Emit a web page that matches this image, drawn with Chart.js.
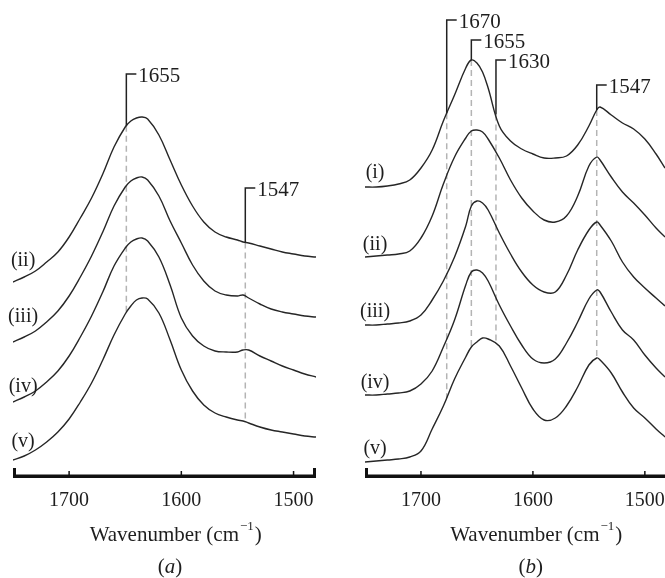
<!DOCTYPE html>
<html>
<head>
<meta charset="utf-8">
<script src="https://cdn.jsdelivr.net/npm/chart.js@4/dist/chart.umd.min.js"></script>
<style>
  body { margin: 0; background: #fff; }
  .painel { position: absolute; top: 0; }
  #painelA { left: 0; }
  #painelB { left: 332px; }
</style>
</head>
<body>
<div class="painel" id="painelA"><canvas id="graficoA" width="332" height="578"></canvas></div>
<div class="painel" id="painelB"><canvas id="graficoB" width="333" height="578"></canvas></div>
<script>
// painel (a): número de onda (cm-1) e absorbância deslocada (u.a.)
const ondasA = [1750,1740,1730,1720,1710,1700,1690,1680,1670,1660,1650,1645,1640,1635,1630,1620,1610,1600,1590,1580,1570,1560,1550,1545,1540,1530,1520,1510,1500,1490,1480];
const espectroA_ii  = [194,199,205,214,224,239,258,278,302,329,349,355,358,359,357,341,316,291,270,254,244,239,236,234,233,230,227,224,222,220,219];
const espectroA_iii = [134,139,145,154,165,180,199,220,244,270,289,295,298,299,296,280,255,233,211,195,185,181,180,181,178,172,167,164,162,160,159];
const espectroA_iv  = [74,79,85,94,105,120,139,160,184,210,228,234,237,238,235,219,191,158,140,130,125,124,124,126,126,120,115,110,106,102,99];
const espectroA_v   = [16,20,26,34,44,57,74,93,116,141,162,170,176,178,177,163,136,106,85,71,63,59,56,55,53,49,46,44,42,40,39];

// painel (b)
const ondasB = [1750,1740,1730,1720,1710,1700,1690,1680,1670,1660,1655,1650,1645,1640,1630,1620,1610,1600,1590,1580,1570,1560,1550,1543,1540,1530,1520,1510,1500,1490,1482];
const espectroB_i   = [289,289,290,292,296,308,326,355,381,408,416,413,404,388,350,335,327,322,318,318,320,331,350,366,369,361,353,347,337,322,308];
const espectroB_ii  = [219,220,221,222,225,238,260,292,319,338,345,346,344,337,318,296,278,265,256,254,260,280,310,319,316,299,284,273,261,248,239];
const espectroB_iii = [151,151,152,153,155,161,176,195,219,250,270,275,273,266,243,222,204,191,184,184,201,226,246,254,251,235,214,199,188,178,170];
const espectroB_iv  = [81,81,82,83,85,92,105,129,156,191,204,206,203,195,171,150,131,117,113,117,133,154,177,186,184,164,146,136,121,108,99];
const espectroB_v   = [14,15,16,17,19,25,47,70,97,119,129,134,138,137,130,110,88,67,56,58,70,89,111,118,116,103,84,68,58,47,39];

const valoresTicks = [1700, 1600, 1500];

const rotulosCurvasA = ['(ii)', '(iii)', '(iv)', '(v)'];
const nivelRotulosA = [215, 159, 89, 34];
const rotulosCurvasB = ['(i)', '(ii)', '(iii)', '(iv)', '(v)'];
const nivelRotulosB = [303, 231, 164, 93, 27];

const picosA = [1649, 1543];
const textosPicosA = ['1655', '1547'];
const nivelPicosA = [402, 288];
const picosB = [1677, 1655, 1633, 1543];
const textosPicosB = ['1670', '1655', '1630', '1547'];
const nivelPicosB = [456, 436, 416, 391];

const corCurva = '#262626';
const corTexto = '#1e1e1e';
const fonteSerif = '"Liberation Serif", "Times New Roman", serif';

function valorEm(ondas, valores, w) {
    for (let i = 0; i < ondas.length - 1; i++) {
        if (w <= ondas[i] && w >= ondas[i + 1]) {
            const t = (ondas[i] - w) / (ondas[i] - ondas[i + 1]);
            return valores[i] + t * (valores[i + 1] - valores[i]);
        }
    }
    return valores[valores.length - 1];
}

function desenharTitulo(ctx, cx, cy) {
    const grande = '21px ' + fonteSerif, pequena = '13px ' + fonteSerif;
    const p1 = 'Wavenumber (cm', p2 = '\u22121', p3 = ')';
    ctx.font = grande;
    const w1 = ctx.measureText(p1).width, w3 = ctx.measureText(p3).width;
    ctx.font = pequena;
    const w2 = ctx.measureText(p2).width;
    let xx = cx - (w1 + w2 + w3 + 2) / 2;
    ctx.textAlign = 'left';
    ctx.textBaseline = 'middle';
    ctx.font = grande; ctx.fillText(p1, xx, cy); xx += w1 + 1;
    ctx.font = pequena; ctx.fillText(p2, xx, cy - 8); xx += w2 + 1;
    ctx.font = grande; ctx.fillText(p3, xx, cy);
}

function desenharLetra(ctx, cx, cy, letra) {
    const normal = '21px ' + fonteSerif, italico = 'italic 21px ' + fonteSerif;
    ctx.font = normal;
    const wp = ctx.measureText('(').width;
    ctx.font = italico;
    const wl = ctx.measureText(letra).width;
    let xx = cx - (2 * wp + wl) / 2;
    ctx.textAlign = 'left';
    ctx.textBaseline = 'middle';
    ctx.font = normal; ctx.fillText('(', xx, cy); xx += wp;
    ctx.font = italico; ctx.fillText(letra, xx, cy); xx += wl;
    ctx.font = normal; ctx.fillText(')', xx, cy);
}

// plugin que desenha eixo, marcações de pico e textos do painel
function criarMarcas(cfg) {
    return {
        id: 'marcas' + cfg.letra,
        beforeDatasetsDraw(chart) {
            const ctx = chart.ctx, x = chart.scales.x, y = chart.scales.y;
            ctx.save();
            ctx.strokeStyle = '#b4b4b4';
            ctx.lineWidth = 1.5;
            ctx.setLineDash([6, 4]);
            cfg.picos.forEach(w => {
                const px = x.getPixelForValue(w);
                ctx.beginPath();
                ctx.moveTo(px, y.getPixelForValue(valorEm(cfg.ondas, cfg.topo, w)));
                ctx.lineTo(px, y.getPixelForValue(valorEm(cfg.ondas, cfg.base, w)));
                ctx.stroke();
            });
            ctx.restore();
        },
        afterDraw(chart) {
            const ctx = chart.ctx, x = chart.scales.x, y = chart.scales.y;
            const base = chart.chartArea.bottom;
            ctx.save();
            // eixo
            ctx.fillStyle = '#111';
            const xEsq = x.getPixelForValue(x.max), xDir = x.getPixelForValue(x.min);
            ctx.fillRect(xEsq, base - 1.5, xDir - xEsq, 3.5);
            ctx.fillRect(xEsq, base - 8, 3, 10);
            if (cfg.fechaDireita) ctx.fillRect(xDir - 3, base - 8, 3, 10);
            ctx.font = '20px ' + fonteSerif;
            ctx.textAlign = 'center';
            ctx.textBaseline = 'middle';
            valoresTicks.forEach(v => {
                const px = x.getPixelForValue(v);
                ctx.fillRect(px - 0.75, base - 5, 1.5, 5);
                ctx.fillStyle = corTexto;
                ctx.fillText(String(v), px, base + 25);
                ctx.fillStyle = '#111';
            });
            ctx.fillStyle = corTexto;
            desenharTitulo(ctx, x.getPixelForValue(cfg.centroTitulo), base + 59);
            desenharLetra(ctx, x.getPixelForValue(cfg.centroLetra), base + 91, cfg.letra);

            // rótulos das curvas
            ctx.font = '20px ' + fonteSerif;
            ctx.textAlign = 'center';
            ctx.textBaseline = 'middle';
            cfg.rotulos.forEach((r, i) => {
                ctx.fillText(r, x.getPixelForValue(1741), y.getPixelForValue(cfg.nivelRotulos[i]));
            });

            // colchetes dos picos
            ctx.strokeStyle = '#222';
            ctx.lineWidth = 1.5;
            ctx.font = '21px ' + fonteSerif;
            ctx.textAlign = 'left';
            cfg.picos.forEach((w, i) => {
                const px = x.getPixelForValue(w);
                const py0 = y.getPixelForValue(valorEm(cfg.ondas, cfg.topo, w));
                const py1 = y.getPixelForValue(cfg.nivelPicos[i]);
                ctx.beginPath();
                ctx.moveTo(px, py0);
                ctx.lineTo(px, py1);
                ctx.lineTo(px + 10, py1);
                ctx.stroke();
                ctx.fillText(cfg.textosPicos[i], px + 12, py1 + 2);
            });
            ctx.restore();
        }
    };
}

function montarGrafico(idCanvas, ondas, series, minOnda, padding, cfg) {
    const contexto = document.getElementById(idCanvas).getContext('2d');
    return new Chart(contexto, {
        type: 'line',
        data: {
            datasets: series.map(s => ({
                data: ondas.map((w, i) => ({ x: w, y: s[i] })),
                borderColor: corCurva,
                borderWidth: 1.4,
                pointRadius: 0,
                fill: false,
                tension: 0.4
            }))
        },
        options: {
            responsive: false,
            animation: false,
            layout: { padding: padding },
            plugins: { legend: { display: false }, tooltip: { enabled: false } },
            scales: {
                x: { type: 'linear', reverse: true, min: minOnda, max: 1750, display: false },
                y: { type: 'linear', min: 0, max: 476, display: false }
            }
        },
        plugins: [criarMarcas(cfg)]
    });
}

montarGrafico('graficoA', ondasA,
    [espectroA_ii, espectroA_iii, espectroA_iv, espectroA_v], 1480,
    { left: 13, right: 16, top: 0, bottom: 102 },
    {
        letra: 'a', ondas: ondasA, topo: espectroA_ii, base: espectroA_v,
        picos: picosA, textosPicos: textosPicosA, nivelPicos: nivelPicosA,
        rotulos: rotulosCurvasA, nivelRotulos: nivelRotulosA,
        centroTitulo: 1605, centroLetra: 1610, fechaDireita: true
    });

montarGrafico('graficoB', ondasB,
    [espectroB_i, espectroB_ii, espectroB_iii, espectroB_iv, espectroB_v], 1482,
    { left: 33, right: 0, top: 0, bottom: 102 },
    {
        letra: 'b', ondas: ondasB, topo: espectroB_i, base: espectroB_v,
        picos: picosB, textosPicos: textosPicosB, nivelPicos: nivelPicosB,
        rotulos: rotulosCurvasB, nivelRotulos: nivelRotulosB,
        centroTitulo: 1597, centroLetra: 1602, fechaDireita: false
    });
</script>
</body>
</html>
